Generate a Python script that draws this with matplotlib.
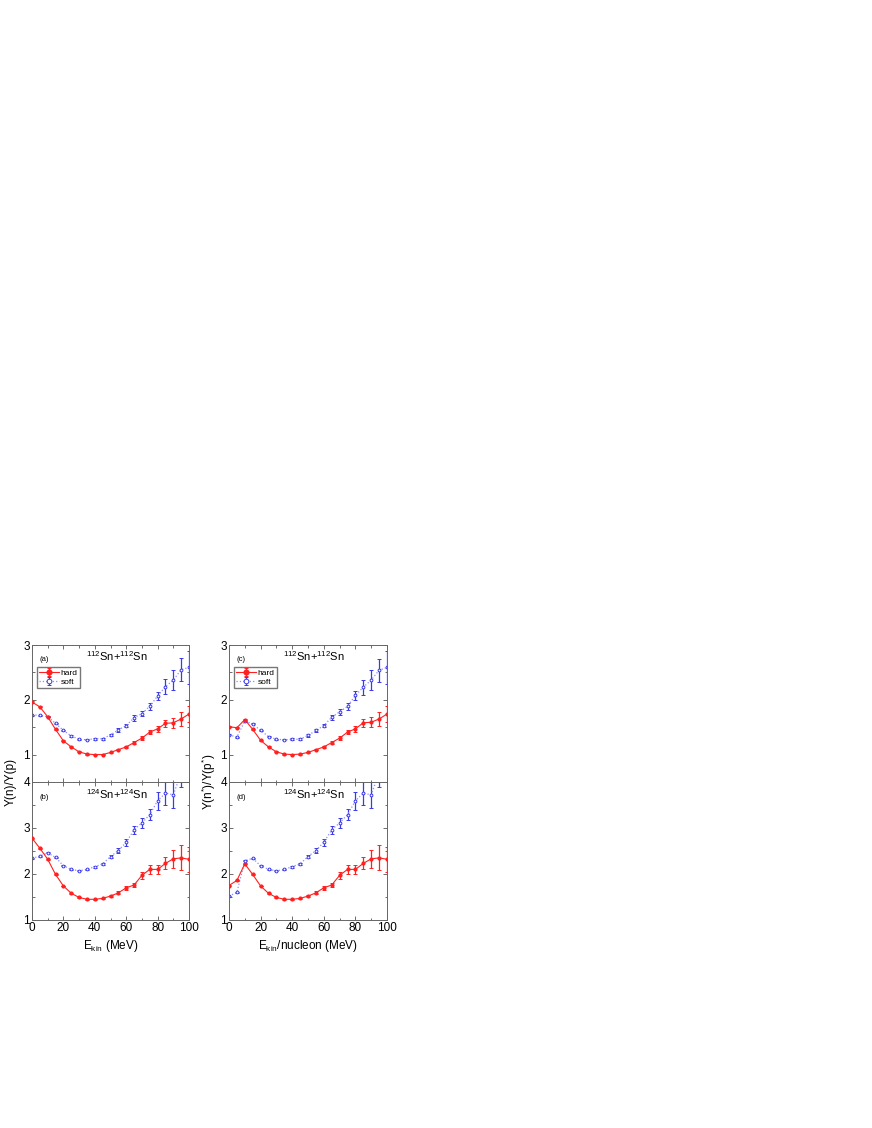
import numpy as np
import matplotlib
matplotlib.use("Agg")
import matplotlib.pyplot as plt
from matplotlib.ticker import MultipleLocator

plt.rcParams['font.family'] = ['Liberation Sans', 'DejaVu Sans']
plt.rcParams['mathtext.fontset'] = 'custom'
plt.rcParams['mathtext.rm'] = 'Liberation Sans'
plt.rcParams['mathtext.it'] = 'Liberation Sans'

ekin = np.arange(0, 101, 5)

# panel (a): 112Sn+112Sn, Y(n)/Y(p)
a_hard = [1.96, 1.87, 1.69, 1.46, 1.25, 1.14, 1.05, 1.01, 1.00, 1.00, 1.04,
          1.09, 1.14, 1.22, 1.30, 1.41, 1.47, 1.57, 1.58, 1.65, 1.74]
a_hard_err = [0.01, 0.01, 0.01, 0.01, 0.01, 0.01, 0.01, 0.01, 0.01, 0.01, 0.01,
              0.015, 0.02, 0.03, 0.035, 0.04, 0.05, 0.07, 0.09, 0.12, 0.15]
a_soft = [1.72, 1.72, 1.69, 1.57, 1.44, 1.34, 1.28, 1.27, 1.29, 1.29, 1.36,
          1.45, 1.53, 1.67, 1.75, 1.88, 2.07, 2.24, 2.36, 2.55, 2.59]
a_soft_err = [0.01, 0.01, 0.01, 0.01, 0.01, 0.01, 0.01, 0.01, 0.015, 0.015, 0.02,
              0.03, 0.03, 0.05, 0.05, 0.07, 0.08, 0.14, 0.18, 0.21, 0.30]

# panel (b): 124Sn+124Sn, Y(n)/Y(p)
b_hard = [2.78, 2.56, 2.32, 1.99, 1.74, 1.58, 1.49, 1.45, 1.45, 1.47, 1.52,
          1.59, 1.70, 1.76, 1.97, 2.10, 2.10, 2.23, 2.33, 2.35, 2.32]
b_hard_err = [0.01, 0.01, 0.01, 0.01, 0.01, 0.01, 0.01, 0.01, 0.01, 0.015, 0.02,
              0.03, 0.04, 0.05, 0.08, 0.1, 0.1, 0.13, 0.19, 0.27, 0.27]
b_soft = [2.34, 2.39, 2.46, 2.36, 2.18, 2.10, 2.07, 2.10, 2.16, 2.22, 2.38,
          2.51, 2.69, 2.96, 3.11, 3.29, 3.59, 3.76, 3.72, 4.20, 4.40]
b_soft_err = [0.01, 0.01, 0.01, 0.01, 0.01, 0.01, 0.015, 0.015, 0.02, 0.03, 0.04,
              0.05, 0.08, 0.09, 0.1, 0.12, 0.2, 0.27, 0.28, 0.3, 0.3]

# panel (c): 112Sn+112Sn, Y(n*)/Y(p*)
c_hard = [1.51, 1.49, 1.64, 1.46, 1.26, 1.14, 1.05, 1.01, 1.00, 1.01, 1.04,
          1.09, 1.14, 1.22, 1.30, 1.41, 1.47, 1.58, 1.59, 1.65, 1.74]
c_hard_err = a_hard_err
c_soft = [1.36, 1.32, 1.61, 1.56, 1.44, 1.33, 1.28, 1.27, 1.28, 1.28, 1.35,
          1.44, 1.53, 1.68, 1.78, 1.88, 2.08, 2.23, 2.36, 2.54, 2.59]
c_soft_err = a_soft_err

# panel (d): 124Sn+124Sn, Y(n*)/Y(p*)
d_hard = [1.75, 1.86, 2.22, 1.99, 1.74, 1.58, 1.49, 1.45, 1.45, 1.47, 1.52,
          1.59, 1.70, 1.76, 1.97, 2.10, 2.10, 2.23, 2.33, 2.35, 2.32]
d_hard_err = b_hard_err
d_soft = [1.52, 1.60, 2.29, 2.34, 2.18, 2.10, 2.07, 2.10, 2.16, 2.22, 2.38,
          2.51, 2.69, 2.96, 3.11, 3.29, 3.59, 3.76, 3.72, 4.20, 4.40]
d_soft_err = b_soft_err

red = '#ff2020'
blue = '#3a3ae8'
blue_line = '#8c8cff'

fig = plt.figure(figsize=(8.72, 11.28), dpi=100)
W = 872.0
H = 1128.0


def make_ax(x0, x1, y0, y1):
    return fig.add_axes([x0 / W, 1 - y1 / H, (x1 - x0) / W, (y1 - y0) / H])


ax_a = make_ax(32, 189, 645, 782)
ax_b = make_ax(32, 189, 782, 920)
ax_c = make_ax(229, 387, 645, 782)
ax_d = make_ax(229, 387, 782, 920)

panels = [
    (ax_a, a_hard, a_hard_err, a_soft, a_soft_err, '(a)', '112', (0.5, 3)),
    (ax_b, b_hard, b_hard_err, b_soft, b_soft_err, '(b)', '124', (1, 4)),
    (ax_c, c_hard, c_hard_err, c_soft, c_soft_err, '(c)', '112', (0.5, 3)),
    (ax_d, d_hard, d_hard_err, d_soft, d_soft_err, '(d)', '124', (1, 4)),
]

for ax, hard, herr, soft, serr, tag, mass, ylim in panels:
    ax.errorbar(ekin, soft, yerr=serr, color=blue_line, ls=':', lw=0.9,
                marker='o', ms=2.0, mfc='white', mec=blue, mew=0.7,
                ecolor=blue, elinewidth=0.9, capsize=1.3, capthick=0.7,
                label='soft', zorder=2)
    ax.errorbar(ekin, hard, yerr=herr, color=red, ls='-', lw=0.8, marker='o',
                ms=2.0, mfc=red, mec=red, ecolor=red, elinewidth=0.9,
                capsize=1.3, capthick=0.7, label='hard', zorder=3)
    ax.set_xlim(0, 100)
    ax.set_ylim(*ylim)
    ax.xaxis.set_major_locator(MultipleLocator(20))
    ax.xaxis.set_minor_locator(MultipleLocator(10))
    ax.yaxis.set_major_locator(MultipleLocator(1))
    ax.yaxis.set_minor_locator(MultipleLocator(0.5))
    ax.tick_params(which='both', direction='in', top=True, right=True,
                   labelsize=8.5, pad=1.5, width=0.6, color='#555555')
    ax.tick_params(which='major', length=3)
    ax.tick_params(which='minor', length=1.8)
    for sp in ax.spines.values():
        sp.set_linewidth(0.7)
        sp.set_color('#666666')
    ax.text(0.05, 0.88, tag, transform=ax.transAxes, fontsize=5.5)
    ax.text(0.54, 0.88, r'$^{%s}$Sn+$^{%s}$Sn' % (mass, mass),
            transform=ax.transAxes, fontsize=8, ha='center')

for ax in (ax_a, ax_c):
    ax.set_xticklabels([])
    hnd, lab = ax.get_legend_handles_labels()
    ax.legend(hnd[::-1], lab[::-1], loc='upper left', bbox_to_anchor=(0.03, 0.84),
              fontsize=6, frameon=True, fancybox=False, edgecolor='#555555',
              borderpad=0.25, handlelength=2.4, handletextpad=0.2,
              labelspacing=0.15, markerscale=1.7, borderaxespad=0.0)

ax_b.set_xlabel(r'E$_{\mathregular{kin}}$ (MeV)', fontsize=8.5, labelpad=3)
ax_d.set_xlabel(r'E$_{\mathregular{kin}}$/nucleon (MeV)', fontsize=8.5, labelpad=3)

fig.text(11 / W, 1 - 782 / H, 'Y(n)/Y(p)', rotation=90, fontsize=8.5,
         ha='center', va='center')
fig.text(209 / W, 1 - 782 / H, r'Y(n$^{*}$)/Y(p$^{*}$)', rotation=90,
         fontsize=8.5, ha='center', va='center')

fig.savefig('out.png', dpi=100)
